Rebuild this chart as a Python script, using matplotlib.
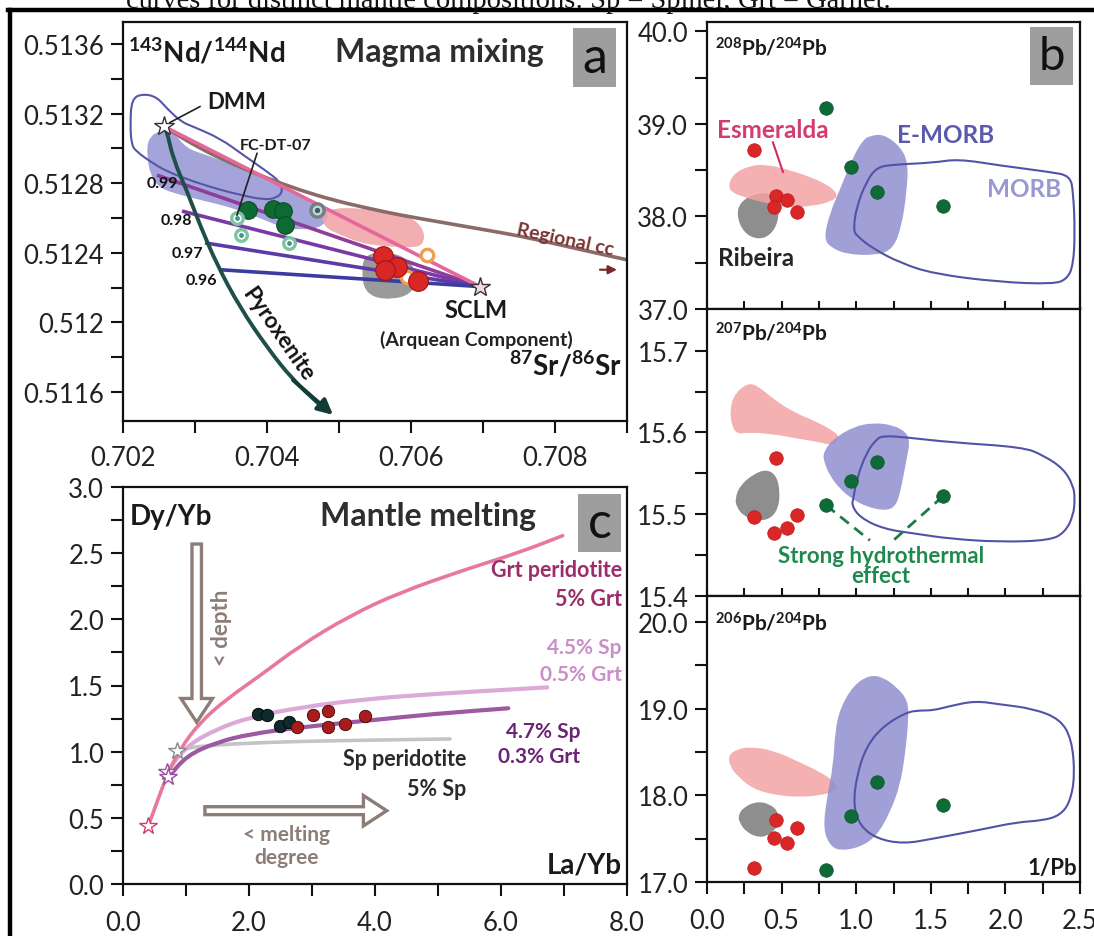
import numpy as np
import matplotlib
matplotlib.use('Agg')
import matplotlib.pyplot as plt
from matplotlib.patches import PathPatch, FancyArrow, Rectangle
from matplotlib.path import Path
from matplotlib.lines import Line2D

plt.rcParams['font.family'] = ['Lato', 'DejaVu Sans']
plt.rcParams['mathtext.fontset'] = 'custom'
plt.rcParams['mathtext.rm'] = 'Lato'
plt.rcParams['mathtext.bf'] = 'Lato:bold'
plt.rcParams['mathtext.it'] = 'Lato:italic'

# ---------------- Panel a : Sr-Nd ----------------
a_xticks = [0.702, 0.704, 0.706, 0.708]
a_xticklabels = ['0.702', '0.704', '0.706', '0.708']
a_yticks = [0.5116, 0.5120, 0.5124, 0.5128, 0.5132, 0.5136]
a_yticklabels = ['0.5116', '0.512', '0.5124', '0.5128', '0.5132', '0.5136']

a_morb_x = [0.70212, 0.70228, 0.70247, 0.70261, 0.70281, 0.70298, 0.70335, 0.70367, 0.70400, 0.70418, 0.70422,
            0.70413, 0.70395, 0.70363, 0.70335, 0.70298, 0.70261, 0.70238, 0.70219, 0.70212, 0.70210]
a_morb_y = [0.513286, 0.513314, 0.513295, 0.513229, 0.513152, 0.513124, 0.513057, 0.512962, 0.512867, 0.512809,
            0.512752, 0.512714, 0.512705, 0.512733, 0.512762, 0.512809, 0.512867, 0.512924, 0.512981, 0.513019,
            0.513133]
a_emorb_x = [0.70235, 0.70251, 0.70270, 0.70288, 0.70316, 0.70353, 0.70395, 0.70432, 0.70464, 0.70483, 0.70485,
             0.70474, 0.70446, 0.70423, 0.70390, 0.70353, 0.70316, 0.70279, 0.70251, 0.70238, 0.70233]
a_emorb_y = [0.513057, 0.513105, 0.513095, 0.513000, 0.512962, 0.512905, 0.512829, 0.512752, 0.512695, 0.512657,
             0.512600, 0.512543, 0.512533, 0.512543, 0.512600, 0.512657, 0.512695, 0.512733, 0.512771, 0.512848,
             0.512962]
a_esm_x = [0.70474, 0.70492, 0.70529, 0.70575, 0.70603, 0.70619, 0.70617, 0.70603, 0.70562, 0.70529, 0.70501, 0.70481]
a_esm_y = [0.512619, 0.512657, 0.512657, 0.512629, 0.512600, 0.512524, 0.512448, 0.512429, 0.512438, 0.512457,
           0.512505, 0.512543]
a_rib_x = [0.70534, 0.70552, 0.70585, 0.70603, 0.70608, 0.70599, 0.70575, 0.70548, 0.70534, 0.70532]
a_rib_y = [0.512371, 0.512409, 0.512390, 0.512333, 0.512238, 0.512162, 0.512133, 0.512143, 0.512200, 0.512295]

dmm = (0.702569, 0.513126)
sclm = (0.706958, 0.512206)

mix_start_x = [0.702472, 0.702819, 0.703139, 0.703347]
mix_start_y = [0.512846, 0.512640, 0.512457, 0.512303]
mix_labels = ['0.99', '0.98', '0.97', '0.96']
mix_label_x = [0.702764, 0.702958, 0.703111, 0.703306]
mix_label_y = [0.512800, 0.512589, 0.512400, 0.512246]

pyrox_x = [0.702569, 0.702611, 0.702694, 0.702889, 0.703069, 0.703306, 0.703625, 0.704000, 0.704361, 0.704736, 0.704917]
pyrox_y = [0.513126, 0.513097, 0.512943, 0.512754, 0.512560, 0.512331, 0.512086, 0.511857, 0.511669, 0.511526, 0.511469]

regcc_x = [0.702569, 0.702611, 0.703069, 0.703528, 0.703999, 0.704458, 0.704917, 0.705389, 0.705847, 0.706403,
           0.706958, 0.707514, 0.708069, 0.708625, 0.709000]
regcc_y = [0.513126, 0.513114, 0.512999, 0.512909, 0.512829, 0.512760, 0.512703, 0.512657, 0.512617, 0.512577,
           0.512537, 0.512497, 0.512446, 0.512394, 0.512360]

a_red_x = [0.705611, 0.705806, 0.705639, 0.706097]
a_red_y = [0.512383, 0.512320, 0.512303, 0.512240]
a_green_x = [0.703736, 0.704083, 0.704222, 0.704250]
a_green_y = [0.512646, 0.512651, 0.512640, 0.512560]
a_open_x = [0.703583, 0.703639, 0.704306]
a_open_y = [0.512600, 0.512503, 0.512457]
a_grayring_x = [0.704694]
a_grayring_y = [0.512646]
a_orange_x = [0.706222, 0.705944]
a_orange_y = [0.512389, 0.512263]

# ---------------- Panel b : Pb isotopes vs 1/Pb ----------------
b_xticks = [0.0, 0.5, 1.0, 1.5, 2.0, 2.5]
b_xticklabels = ['0.0', '0.5', '1.0', '1.5', '2.0', '2.5']
red_invpb = [0.315, 0.462, 0.449, 0.536, 0.603]
green_invpb = [0.798, 0.965, 1.139, 1.582]
red_pb208 = [38.72, 38.22, 38.10, 38.18, 38.05]
red_pb207 = [15.497, 15.569, 15.477, 15.483, 15.499]
red_pb206 = [17.16, 17.72, 17.51, 17.45, 17.62]
green_pb208 = [39.17, 38.53, 38.26, 38.11]
green_pb207 = [15.511, 15.541, 15.564, 15.522]
green_pb206 = [17.14, 17.76, 18.15, 17.89]

b1_esm_x = [0.143, 0.176, 0.288, 0.400, 0.534, 0.668, 0.802, 0.880, 0.847, 0.712, 0.534, 0.377, 0.243, 0.166]
b1_esm_y = [38.33, 38.46, 38.55, 38.56, 38.51, 38.44, 38.35, 38.24, 38.17, 38.11, 38.10, 38.15, 38.21, 38.26]
b1_rib_x = [0.199, 0.221, 0.310, 0.422, 0.478, 0.478, 0.422, 0.333, 0.243]
b1_rib_y = [38.01, 38.15, 38.24, 38.26, 38.11, 37.94, 37.79, 37.75, 37.83]
b1_emorb_x = [1.092, 1.182, 1.293, 1.349, 1.338, 1.305, 1.249, 1.137, 0.936, 0.824, 0.784, 0.824, 0.891, 0.981, 1.048]
b1_emorb_y = [38.87, 38.89, 38.76, 38.58, 38.26, 37.90, 37.65, 37.58, 37.59, 37.67, 37.77, 38.04, 38.29, 38.65, 38.83]
b1_morb_x = [0.981, 1.003, 1.070, 1.137, 1.249, 1.517, 1.684, 1.964, 2.299, 2.433, 2.455, 2.466, 2.455, 2.411, 2.321,
             1.964, 1.517, 1.293, 1.115, 1.003]
b1_morb_y = [37.86, 38.11, 38.38, 38.53, 38.56, 38.58, 38.62, 38.55, 38.48, 38.44, 38.26, 37.83, 37.47, 37.32, 37.27,
             37.29, 37.38, 37.50, 37.65, 37.79]

b2_esm_x = [0.154, 0.176, 0.266, 0.333, 0.444, 0.578, 0.735, 0.846, 0.891, 0.846, 0.757, 0.623, 0.444, 0.288, 0.199, 0.166]
b2_esm_y = [15.625, 15.645, 15.660, 15.658, 15.641, 15.625, 15.613, 15.602, 15.594, 15.584, 15.588, 15.592, 15.598,
            15.600, 15.598, 15.609]
b2_rib_x = [0.188, 0.221, 0.310, 0.400, 0.467, 0.489, 0.478, 0.422, 0.333, 0.243, 0.199]
b2_rib_y = [15.519, 15.535, 15.549, 15.555, 15.547, 15.527, 15.507, 15.494, 15.492, 15.498, 15.509]
b2_emorb_x = [0.779, 0.846, 0.981, 1.115, 1.249, 1.338, 1.360, 1.338, 1.305, 1.271, 1.204, 1.070, 0.970, 0.891, 0.824, 0.784]
b2_emorb_y = [15.576, 15.592, 15.607, 15.612, 15.609, 15.600, 15.588, 15.568, 15.535, 15.511, 15.504, 15.509, 15.519,
              15.531, 15.547, 15.564]
b2_morb_x = [0.981, 1.003, 1.070, 1.137, 1.182, 1.338, 1.629, 2.120, 2.254, 2.388, 2.455, 2.466, 2.455, 2.399, 2.299,
             1.964, 1.629, 1.405, 1.182, 1.025, 0.970]
b2_morb_y = [15.519, 15.543, 15.576, 15.592, 15.596, 15.594, 15.588, 15.582, 15.572, 15.556, 15.535, 15.519, 15.498,
             15.478, 15.468, 15.466, 15.470, 15.476, 15.482, 15.496, 15.511]
hydro_end_x = [1.092, 1.249]
hydro_end_y = [15.468, 15.468]

b3_esm_x = [0.143, 0.199, 0.288, 0.444, 0.623, 0.757, 0.846, 0.873, 0.846, 0.757, 0.623, 0.467, 0.310, 0.199, 0.154]
b3_esm_y = [18.46, 18.53, 18.56, 18.52, 18.38, 18.27, 18.17, 18.09, 18.04, 18.00, 17.98, 18.00, 18.07, 18.23, 18.34]
b3_rib_x = [0.210, 0.243, 0.333, 0.422, 0.478, 0.489, 0.422, 0.355, 0.266, 0.216]
b3_rib_y = [17.77, 17.86, 17.93, 17.90, 17.81, 17.67, 17.55, 17.51, 17.57, 17.69]
b3_emorb_x = [0.891, 0.981, 1.092, 1.182, 1.271, 1.349, 1.349, 1.327, 1.293, 1.226, 1.137, 1.025, 0.891, 0.824, 0.779,
              0.802, 0.846, 0.858]
b3_emorb_y = [19.00, 19.27, 19.39, 19.36, 19.25, 19.09, 18.84, 18.46, 18.11, 17.80, 17.53, 17.40, 17.36, 17.42, 17.61,
              17.96, 18.34, 18.73]
b3_morb_x = [0.981, 1.003, 1.070, 1.182, 1.338, 1.428, 1.517, 1.629, 1.796, 1.964, 2.187, 2.366, 2.444, 2.466, 2.433,
             2.366, 2.254, 2.076, 1.852, 1.517, 1.316, 1.137, 1.025]
b3_morb_y = [17.88, 18.23, 18.57, 18.80, 18.96, 18.98, 18.98, 19.03, 19.09, 19.05, 19.00, 18.88, 18.65, 18.23, 17.92,
             17.77, 17.71, 17.69, 17.61, 17.50, 17.44, 17.50, 17.65]

# ---------------- Panel c : La/Yb vs Dy/Yb ----------------
c_xticks = [0, 2, 4, 6, 8]
c_xticklabels = ['0.0', '2.0', '4.0', '6.0', '8.0']
c_yticks = [0, 0.5, 1.0, 1.5, 2.0, 2.5, 3.0]
c_yticklabels = ['0.0', '0.5', '1.0', '1.5', '2.0', '2.5', '3.0']

grt_x = [0.402, 0.481, 0.693, 0.905, 1.222, 1.646, 2.175, 2.810, 3.603, 4.397, 5.455, 6.302, 6.978]
grt_y = [0.440, 0.542, 0.818, 1.020, 1.222, 1.398, 1.574, 1.801, 2.028, 2.204, 2.380, 2.507, 2.632]
sp45_x = [0.693, 1.011, 1.487, 2.016, 2.810, 3.868, 4.926, 6.302, 6.735]
sp45_y = [0.844, 1.045, 1.171, 1.260, 1.335, 1.398, 1.436, 1.474, 1.486]
sp47_x = [0.719, 1.011, 1.487, 2.016, 2.810, 3.868, 4.926, 6.116]
sp47_y = [0.806, 0.970, 1.071, 1.133, 1.184, 1.234, 1.285, 1.328]
sp_x = [0.852, 1.222, 2.281, 3.339, 5.190]
sp_y = [1.007, 1.045, 1.071, 1.083, 1.096]

c_black_x = [2.148, 2.281, 2.492, 2.640]
c_black_y = [1.285, 1.277, 1.196, 1.227]
c_red_x = [2.757, 3.011, 3.259, 3.259, 3.524, 3.841]
c_red_y = [1.189, 1.277, 1.310, 1.184, 1.209, 1.267]

# ---------------- helpers ----------------
def smooth_closed(xs, ys):
    pts = np.column_stack([xs, ys])
    mids = (pts + np.roll(pts, -1, axis=0)) / 2.0
    verts = [mids[-1]]
    codes = [Path.MOVETO]
    for i in range(len(pts)):
        verts += [pts[i], mids[i]]
        codes += [Path.CURVE3, Path.CURVE3]
    return Path(verts, codes)


def smooth_open(xs, ys):
    pts = np.column_stack([xs, ys])
    mids = (pts[:-1] + pts[1:]) / 2.0
    verts = [pts[0], mids[0]]
    codes = [Path.MOVETO, Path.LINETO]
    for i in range(1, len(pts) - 1):
        verts += [pts[i], mids[i]]
        codes += [Path.CURVE3, Path.CURVE3]
    verts.append(pts[-1])
    codes.append(Path.LINETO)
    return Path(verts, codes)


def field(ax, xs, ys, fc='none', ec='none', lw=0, alpha=1.0, z=1):
    ax.add_patch(PathPatch(smooth_closed(xs, ys), facecolor=fc, edgecolor=ec, lw=lw, alpha=alpha, zorder=z))


def curve(ax, xs, ys, color, lw, z=2, alpha=1.0):
    ax.add_patch(PathPatch(smooth_open(xs, ys), facecolor='none', edgecolor=color, lw=lw, zorder=z,
                           alpha=alpha, capstyle='round'))


def style(ax):
    for s in ax.spines.values():
        s.set_linewidth(1.6)
        s.set_color('#111111')
        s.set_zorder(10)
    ax.tick_params(which='both', direction='out', length=8.5, width=1.5, labelsize=18.5,
                   colors='#111111', labelcolor='#222222')
    ax.tick_params(axis='y', which='both', pad=5)
    ax.tick_params(axis='x', which='both', pad=10)


def label_box(ax, x0, y0, w, h, letter, fs):
    ax.add_patch(Rectangle((x0, y0), w, h, transform=ax.transAxes, facecolor='#9e9e9e',
                           edgecolor='none', zorder=11, clip_on=False))
    ax.text(x0 + w / 2, y0 + h / 2, letter, transform=ax.transAxes, ha='center', va='center',
            fontsize=fs, color='#111111', zorder=12)


W, H = 1094, 937
fig = plt.figure(figsize=(W / 100, H / 100), dpi=100)
fig.patch.set_facecolor('white')


def frac(left, top, right, bottom):
    return [left / W, 1 - bottom / H, (right - left) / W, (bottom - top) / H]


ax_a = fig.add_axes(frac(123, 23, 627, 422))
ax_c = fig.add_axes(frac(123, 488, 627, 885))
ax_b1 = fig.add_axes(frac(707, 23, 1080, 310))
ax_b2 = fig.add_axes(frac(707, 310, 1080, 597))
ax_b3 = fig.add_axes(frac(707, 597, 1080, 883))

# ===== Panel a =====
ax = ax_a
style(ax)
ax.set_xlim(0.702, 0.709)
ax.set_ylim(0.511434, 0.513726)
ax.set_xticks(a_xticks)
ax.set_xticklabels(a_xticklabels)
ax.set_xticks([0.703, 0.705, 0.707, 0.709], minor=True)
ax.set_yticks(a_yticks)
ax.set_yticklabels(a_yticklabels)
ax.set_yticks([0.5118, 0.5122, 0.5126, 0.5130, 0.5134], minor=True)
ax.tick_params(axis='x', which='both', pad=9)

field(ax, a_emorb_x, a_emorb_y, fc='#9494d4', alpha=0.85, z=1)
field(ax, a_rib_x, a_rib_y, fc='#9a9a9a', z=1.2)
field(ax, a_esm_x, a_esm_y, fc='#f2a0a4', alpha=0.85, z=1.3)
field(ax, a_morb_x, a_morb_y, ec='#5656a8', lw=1.5, z=1.5)

curve(ax, regcc_x, regcc_y, '#8c6a6a', 2.6, z=2)
mix_colors = ['#8e3d9a', '#7a3aa6', '#5c3aa8', '#3c3ca0']
for sx, sy, col in zip(mix_start_x, mix_start_y, mix_colors):
    ax.plot([sx, sclm[0]], [sy, sclm[1]], color=col, lw=2.6, zorder=2.2, solid_capstyle='butt')
ax.plot([dmm[0], sclm[0]], [dmm[1], sclm[1]], color='#e5679c', lw=2.6, zorder=2.3)
for lx, ly, t in zip(mix_label_x, mix_label_y, mix_labels):
    ax.text(lx, ly, t, ha='right', va='center', fontsize=11.5, fontweight='bold', color='#111111', zorder=6)

curve(ax, pyrox_x[:-1], pyrox_y[:-1], '#1f4f4a', 2.8, z=3)
ax.annotate('', xy=(pyrox_x[-1], pyrox_y[-1]), xytext=(pyrox_x[-3], pyrox_y[-3]),
            arrowprops=dict(arrowstyle='-|>,head_length=0.9,head_width=0.45', color='#123c38', lw=2.8,
                            shrinkA=0, shrinkB=0), zorder=3)
ax.text(0.704150, 0.511935, 'Pyroxenite', rotation=-55, ha='center', va='center', fontsize=16,
        fontweight='bold', color='#111111', rotation_mode='anchor', zorder=6)

ax.scatter(a_green_x, a_green_y, s=160, color='#0e6a33', edgecolor='#0a4d25', lw=0.8, zorder=4)
ax.scatter(a_red_x, a_red_y, s=200, color='#d92626', edgecolor='#a51414', lw=0.8, zorder=4)
ax.scatter(a_open_x, a_open_y, s=70, facecolor='white', edgecolor='#7cc4a6', lw=2.4, zorder=4)
ax.scatter(a_open_x, a_open_y, s=6, color='#3f9a78', zorder=4.1)
ax.scatter(a_grayring_x, a_grayring_y, s=90, facecolor='#c8d8d4', edgecolor='#6f7f86', lw=2.4, zorder=4)
ax.scatter(a_grayring_x, a_grayring_y, s=8, color='#3b5f66', zorder=4.1)
ax.scatter(a_orange_x, a_orange_y, s=80, facecolor='white', edgecolor='#ef9f52', lw=2.4, zorder=3.9)

ax.plot(*dmm, marker='*', ms=15, mfc='white', mec='#333333', mew=1.0, zorder=7)
ax.plot(*sclm, marker='*', ms=15, mfc='#f2d6ea', mec='#333333', mew=1.0, zorder=7)

ax.text(0.703167, 0.513269, 'DMM', ha='left', va='center', fontsize=16, fontweight='bold', color='#1a1a1a')
ax.plot([0.703069, 0.702653], [0.513240, 0.513149], color='#222222', lw=1.2, zorder=6)
ax.text(0.703625, 0.513017, 'FC-DT-07', ha='left', va='center', fontsize=11.5, fontweight='bold', color='#1a1a1a')
ax.plot([0.703861, 0.703583], [0.512971, 0.512617], color='#222222', lw=1.2, zorder=6)
ax.text(0.706903, 0.512074, 'SCLM', ha='center', va='center', fontsize=17, fontweight='bold', color='#1a1a1a')
ax.text(0.706903, 0.511905, '(Arquean Component)', ha='center', va='center', fontsize=14,
        fontweight='bold', color='#222222')
ax.text(0.708139, 0.512480, 'Regional cc', rotation=-12, ha='center', va='center', fontsize=14,
        fontweight='bold', color='#7a3434', rotation_mode='anchor')
ax.annotate('', xy=(0.708861, 0.512303), xytext=(0.708625, 0.512303),
            arrowprops=dict(arrowstyle='-|>,head_length=0.5,head_width=0.25', color='#7a2a2a', lw=1.6,
                            shrinkA=0, shrinkB=0))

ax.text(0.01, 0.927, r'$^{\mathbf{143}}\mathbf{Nd/}^{\mathbf{144}}\mathbf{Nd}$', transform=ax.transAxes,
        ha='left', va='center', fontsize=20, color='#1a1a1a')
ax.text(0.421, 0.927, 'Magma mixing', transform=ax.transAxes, ha='left', va='center', fontsize=23,
        fontweight='bold', color='#2e2e2e')
ax.text(0.99, 0.143, r'$^{\mathbf{87}}\mathbf{Sr/}^{\mathbf{86}}\mathbf{Sr}$', transform=ax.transAxes,
        ha='right', va='center', fontsize=20, color='#1a1a1a')
label_box(ax, 0.893, 0.837, 0.0853, 0.148, 'a', 36)

# ===== Panel c =====
ax = ax_c
style(ax)
ax.set_xlim(0, 8)
ax.set_ylim(0, 3)
ax.set_xticks(c_xticks)
ax.set_xticklabels(c_xticklabels)
ax.set_xticks([1, 3, 5, 7], minor=True)
ax.set_yticks(c_yticks)
ax.set_yticklabels(c_yticklabels)
ax.set_yticks([0.25, 0.75, 1.25, 1.75, 2.25, 2.75], minor=True)

curve(ax, sp_x, sp_y, '#c4c4c4', 2.6, z=2)
curve(ax, sp45_x, sp45_y, '#dcaad8', 3.0, z=2.1)
curve(ax, sp47_x, sp47_y, '#9c5aa0', 3.0, z=2.2)
curve(ax, grt_x, grt_y, '#e8799c', 2.6, z=2.3)

ax.scatter(c_black_x, c_black_y, s=80, color='#0f2a2c', edgecolor='#000000', lw=0.6, zorder=4)
ax.scatter(c_red_x, c_red_y, s=80, color='#a81c1c', edgecolor='#3a0a0a', lw=0.6, zorder=4)

ax.plot(grt_x[0], grt_y[0], marker='*', ms=13, mfc='white', mec='#d43c6c', mew=1.0, zorder=5)
ax.plot(sp45_x[0], sp45_y[0], marker='*', ms=13, mfc='white', mec='#9b4fa0', mew=1.0, zorder=5)
ax.plot(sp47_x[0], sp47_y[0], marker='*', ms=13, mfc='white', mec='#9b4fa0', mew=1.0, zorder=5)
ax.plot(sp_x[0], sp_y[0], marker='*', ms=13, mfc='white', mec='#8a8a8a', mew=1.0, zorder=5)

arrow_col = '#8c7d76'
ax.add_patch(FancyArrow(1.17, 2.569, 0, -1.347, width=0.15, head_width=0.5, head_length=0.18,
                        length_includes_head=True, facecolor='white', edgecolor=arrow_col, lw=2.4, zorder=3))
ax.add_patch(FancyArrow(1.30, 0.554, 2.886, 0, width=0.06, head_width=0.23, head_length=0.37,
                        length_includes_head=True, facecolor='white', edgecolor=arrow_col, lw=2.4, zorder=3))
ax.text(1.567, 1.94, '< depth', rotation=90, ha='center', va='center', fontsize=16, fontweight='bold',
        color=arrow_col)
ax.text(2.60, 0.378, '< melting', ha='center', va='center', fontsize=15, fontweight='bold', color=arrow_col)
ax.text(2.60, 0.202, 'degree', ha='center', va='center', fontsize=15, fontweight='bold', color=arrow_col)

ax.text(7.92, 2.380, 'Grt peridotite', ha='right', va='center', fontsize=15.5, fontweight='bold', color='#9b2d6b')
ax.text(7.92, 2.154, '5% Grt', ha='right', va='center', fontsize=15.5, fontweight='bold', color='#9b2d6b')
ax.text(7.92, 1.791, '4.5% Sp', ha='right', va='center', fontsize=15, fontweight='bold', color='#c98fc6')
ax.text(7.92, 1.587, '0.5% Grt', ha='right', va='center', fontsize=15, fontweight='bold', color='#c98fc6')
ax.text(7.254, 1.156, '4.7% Sp', ha='right', va='center', fontsize=15, fontweight='bold', color='#6b2477')
ax.text(7.254, 0.967, '0.3% Grt', ha='right', va='center', fontsize=15, fontweight='bold', color='#6b2477')
ax.text(5.444, 0.945, 'Sp peridotite', ha='right', va='center', fontsize=15.5, fontweight='bold', color='#2a2a2a')
ax.text(5.444, 0.718, '5% Sp', ha='right', va='center', fontsize=15.5, fontweight='bold', color='#2a2a2a')

ax.text(0.014, 0.927, 'Dy/Yb', transform=ax.transAxes, ha='left', va='center', fontsize=20,
        fontweight='bold', color='#1a1a1a')
ax.text(0.391, 0.927, 'Mantle melting', transform=ax.transAxes, ha='left', va='center', fontsize=23,
        fontweight='bold', color='#2e2e2e')
ax.text(0.99, 0.05, 'La/Yb', transform=ax.transAxes, ha='right', va='center', fontsize=20,
        fontweight='bold', color='#1a1a1a')
label_box(ax, 0.9028, 0.836, 0.0853, 0.146, 'c', 36)

# ===== Panel b =====
b_specs = [
    (ax_b1, (37.0, 40.1), [37, 38, 39, 40], ['37.0', '38.0', '39.0', '40.0'], [37.5, 38.5, 39.5],
     b1_esm_x, b1_esm_y, b1_rib_x, b1_rib_y, b1_emorb_x, b1_emorb_y, b1_morb_x, b1_morb_y, red_pb208, green_pb208),
    (ax_b2, (15.4, 15.751), [15.4, 15.5, 15.6, 15.7], ['15.4', '15.5', '15.6', '15.7'], [15.45, 15.55, 15.65],
     b2_esm_x, b2_esm_y, b2_rib_x, b2_rib_y, b2_emorb_x, b2_emorb_y, b2_morb_x, b2_morb_y, red_pb207, green_pb207),
    (ax_b3, (17.0, 20.3), [17, 18, 19, 20], ['17.0', '18.0', '19.0', '20.0'], [17.5, 18.5, 19.5],
     b3_esm_x, b3_esm_y, b3_rib_x, b3_rib_y, b3_emorb_x, b3_emorb_y, b3_morb_x, b3_morb_y, red_pb206, green_pb206),
]
for i, (ax, ylim, yt, ytl, ymin, ex, ey, rx, ry, mx, my, ox, oy, rv, gv) in enumerate(b_specs):
    style(ax)
    ax.set_xlim(0, 2.5)
    ax.set_ylim(*ylim)
    ax.set_xticks(b_xticks)
    ax.set_xticks([0.25, 0.75, 1.25, 1.75, 2.25], minor=True)
    ax.set_yticks(yt)
    ax.set_yticklabels(ytl)
    ax.set_yticks(ymin, minor=True)
    if i < 2:
        ax.tick_params(axis='x', which='both', direction='in', length=6, labelbottom=False)
    else:
        ax.set_xticklabels(b_xticklabels)
    field(ax, rx, ry, fc='#8e8e8e', z=1)
    field(ax, ex, ey, fc='#f4a2a4', alpha=0.85, z=1.2)
    field(ax, mx, my, fc='#8f8fd0', alpha=0.85, z=1.3)
    field(ax, ox, oy, ec='#5252a6', lw=1.5, z=1.5)
    ax.scatter(red_invpb, rv, s=95, color='#d92626', edgecolor='#c01818', lw=0.5, zorder=4)
    ax.scatter(green_invpb, gv, s=95, color='#0e6a36', edgecolor='#0a5229', lw=0.5, zorder=4)

ax_b1.text(0.021, 0.913, r'$^{\mathbf{208}}\mathbf{Pb/}^{\mathbf{204}}\mathbf{Pb}$', transform=ax_b1.transAxes,
           ha='left', va='center', fontsize=15, color='#1a1a1a')
ax_b2.text(0.021, 0.920, r'$^{\mathbf{207}}\mathbf{Pb/}^{\mathbf{204}}\mathbf{Pb}$', transform=ax_b2.transAxes,
           ha='left', va='center', fontsize=15, color='#1a1a1a')
ax_b3.text(0.021, 0.909, r'$^{\mathbf{206}}\mathbf{Pb/}^{\mathbf{204}}\mathbf{Pb}$', transform=ax_b3.transAxes,
           ha='left', va='center', fontsize=15, color='#1a1a1a')
ax_b3.text(0.992, 0.049, '1/Pb', transform=ax_b3.transAxes, ha='right', va='center', fontsize=16,
           fontweight='bold', color='#1a1a1a')
label_box(ax_b1, 0.866, 0.780, 0.1153, 0.202, 'b', 34)

ax_b1.text(0.067, 38.94, 'Esmeralda', ha='left', va='center', fontsize=17.5, fontweight='bold', color='#d43c6c')
ax_b1.plot([0.442, 0.509], [38.80, 38.48], color='#c8305e', lw=1.5, zorder=5)
ax_b1.text(1.273, 38.88, 'E-MORB', ha='left', va='center', fontsize=17.5, fontweight='bold', color='#5a5aac')
ax_b1.text(1.877, 38.30, 'MORB', ha='left', va='center', fontsize=17.5, fontweight='bold', color='#9898d2')
ax_b1.text(0.074, 37.56, 'Ribeira', ha='left', va='center', fontsize=17.5, fontweight='bold', color='#262626')

for gx, gy, hx, hy in zip([green_invpb[0], green_invpb[3]], [green_pb207[0], green_pb207[3]], hydro_end_x, hydro_end_y):
    ax_b2.plot([gx, hx], [gy, hy], color='#1e7a47', lw=2.0, ls=(0, (4, 2.5)), zorder=3)
ax_b2.text(1.166, 15.4375, 'Strong hydrothermal\neffect', ha='center', va='center', fontsize=16,
           fontweight='bold', color='#1f8a4e', linespacing=0.95, zorder=6)

# ===== Frame and cut caption =====
fig.add_artist(Line2D([8 / W, 1.0], [1 - 11 / H, 1 - 11 / H], transform=fig.transFigure, color='black', lw=3.2))
fig.add_artist(Line2D([10 / W, 10 / W], [0, 1 - 11 / H], transform=fig.transFigure, color='black', lw=3.2))
fig.text(126 / W, 1 - 7.5 / H, 'curves for distinct mantle compositions: Sp = Spinel; Grt = Garnet.',
         family='Liberation Serif', fontsize=20.5, va='baseline', ha='left', color='#111111')

fig.savefig('out.png', dpi=100)
